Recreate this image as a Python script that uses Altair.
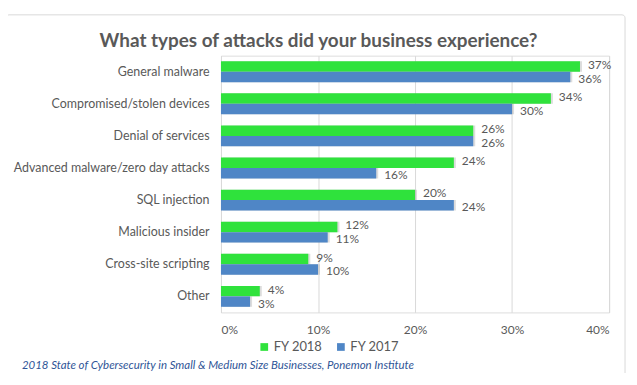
import altair as alt
import pandas as pd

categories = ["General malware", "Compromised/stolen devices", "Denial of services",
              "Advanced malware/zero day attacks", "SQL injection", "Malicious insider",
              "Cross-site scripting", "Other"]
fy2018 = [37, 34, 26, 24, 20, 12, 9, 4]
fy2017 = [36, 30, 26, 16, 24, 11, 10, 3]
series = ["FY 2018", "FY 2017"]
colors = ["#2FE23C", "#4F86C6"]
title_text = "What types of attacks did your business experience?"
source_text = "2018 State of Cybersecurity in Small & Medium Size Businesses, Ponemon Institute"

rows = []
for c, a, b in zip(categories, fy2018, fy2017):
    rows.append({"cat": c, "series": series[0], "v": a / 100})
    rows.append({"cat": c, "series": series[1], "v": b / 100})
df = pd.DataFrame(rows)

W, H = 390, 258
FONT = "Lato"
GRAY = "#595959"

y_enc = alt.Y("cat:N", sort=categories, title=None,
              scale=alt.Scale(paddingInner=0.35, paddingOuter=0.175),
              axis=alt.Axis(labelFontSize=12.5, labelColor=GRAY, labelFont=FONT,
                            ticks=False, domain=False, labelPadding=12, labelLimit=250))
x_enc = alt.X("v:Q", title=None,
              scale=alt.Scale(domain=[0, 0.4]),
              axis=alt.Axis(format=".0%", values=[0, 0.1, 0.2, 0.3, 0.4],
                            labelFontSize=12, labelColor=GRAY, labelFont=FONT,
                            ticks=False, domain=False, grid=True, gridColor="#D9D9D9",
                            labelPadding=12))
yoff = alt.YOffset("series:N", sort=series)
color = alt.Color("series:N", sort=series,
                  scale=alt.Scale(domain=series, range=colors),
                  legend=alt.Legend(title=None, orient="none", legendX=37, legendY=286,
                                    direction="horizontal", symbolType="square",
                                    symbolSize=60, labelFontSize=13, labelColor=GRAY,
                                    labelFont=FONT, columnPadding=12, labelOffset=3,
                                    symbolStrokeWidth=0))

base = alt.Chart(df)

shadow = base.mark_bar(color="#9A9A9A", opacity=0.35, xOffset=2, yOffset=2).encode(
    y=y_enc, x=x_enc, yOffset=yoff)

bars = base.mark_bar().encode(y=y_enc, x=x_enc, yOffset=yoff, color=color)

lab18 = base.transform_filter(alt.datum.series == series[0]).mark_text(
    align="left", dx=8, dy=-1.5, fontSize=12, color=GRAY, font=FONT).encode(
    y=y_enc, x=x_enc, yOffset=yoff, text=alt.Text("v:Q", format=".0%"))
lab17 = base.transform_filter(alt.datum.series == series[1]).mark_text(
    align="left", dx=8, dy=2, fontSize=12, color=GRAY, font=FONT).encode(
    y=y_enc, x=x_enc, yOffset=yoff, text=alt.Text("v:Q", format=".0%"))

src = alt.Chart(pd.DataFrame({"t": [source_text]})).mark_text(
    align="left", baseline="middle", fontStyle="italic", fontSize=11.5,
    color="#2F5597", font=FONT).encode(
    x=alt.value(-200), y=alt.value(312), text="t:N")

ttl = alt.Chart(pd.DataFrame({"t": [title_text]})).mark_text(
    align="center", baseline="middle", fontWeight="bold", fontSize=19,
    color=GRAY, font=FONT).encode(
    x=alt.value(98), y=alt.value(-15), text="t:N")

border = alt.Chart(pd.DataFrame({"a": [1]})).mark_rect(
    filled=False, color="#D9D9D9", strokeWidth=1, cornerRadius=3).encode(
    x=alt.value(-216), x2=alt.value(406), y=alt.value(-41), y2=alt.value(324))

chart = alt.layer(border, shadow, bars, lab18, lab17, src, ttl).properties(
    width=W, height=H,
    autosize=alt.AutoSizeParams(type="none"),
    padding={"left": 214, "top": 47, "right": 20, "bottom": 60},
).configure_view(stroke=None).configure(background="white")

chart.save("out.html", embed_options={"renderer": "svg", "actions": False})
